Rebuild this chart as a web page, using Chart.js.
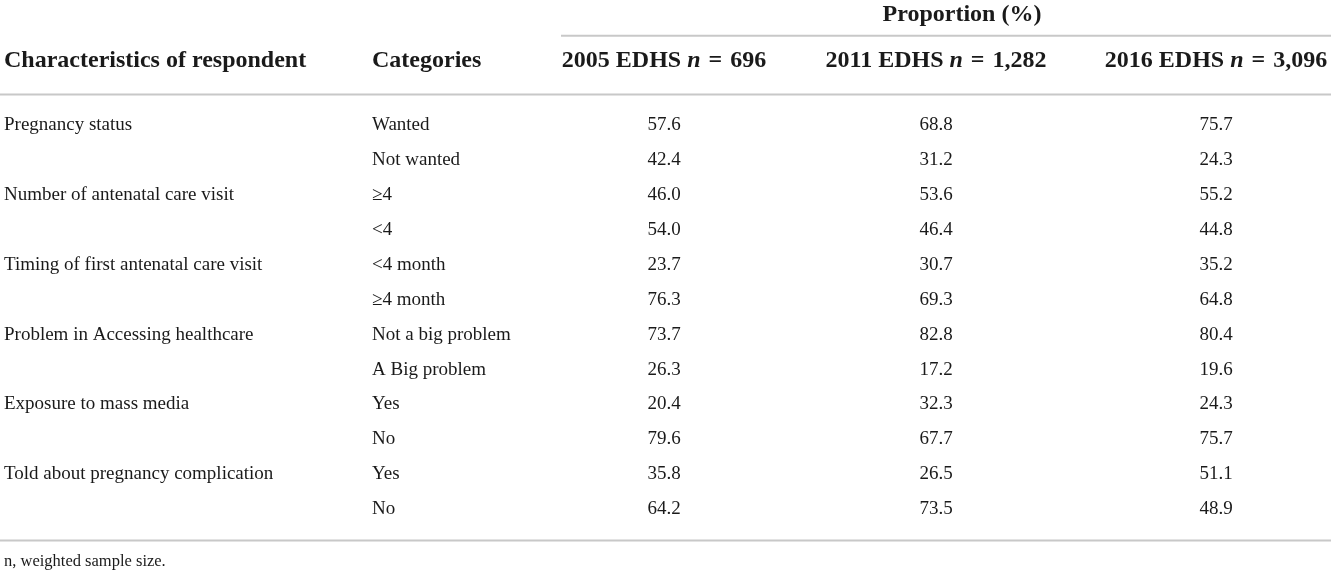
<!DOCTYPE html>
<html>
<head>
<meta charset="utf-8">
<script src="https://cdn.jsdelivr.net/npm/chart.js@4"></script>
<style>
  html, body { margin: 0; padding: 0; background: #ffffff; }
  #wrap { width: 1331px; height: 574px; }
</style>
</head>
<body>
<div id="wrap"><canvas id="c" width="1331" height="574"></canvas></div>
<script>
// ---- data ----
const characteristics = ['Pregnancy status', '', 'Number of antenatal care visit', '', 'Timing of first antenatal care visit', '',
  'Problem in Accessing healthcare', '', 'Exposure to mass media', '', 'Told about pregnancy complication', ''];
const categories = ['Wanted', 'Not wanted', '\u22654', '<4', '<4 month', '\u22654 month', 'Not a big problem', 'A Big problem', 'Yes', 'No', 'Yes', 'No'];
const edhs2005 = [57.6, 42.4, 46.0, 54.0, 23.7, 76.3, 73.7, 26.3, 20.4, 79.6, 35.8, 64.2];
const edhs2011 = [68.8, 31.2, 53.6, 46.4, 30.7, 69.3, 82.8, 17.2, 32.3, 67.7, 26.5, 73.5];
const edhs2016 = [75.7, 24.3, 55.2, 44.8, 35.2, 64.8, 80.4, 19.6, 24.3, 75.7, 51.1, 48.9];
const surveyYears = ['2005', '2011', '2016'];
const sampleSizes = ['696', '1,282', '3,096'];
const groupHeader = 'Proportion (%)';
const stubHeaders = ['Characteristics of respondent', 'Categories'];
const footnote = 'n, weighted sample size.';

// ---- layout (pixel units of the scales) ----
const L = {
  colX: [4, 372, 664, 936, 1216],      // left, left, center, center, center
  align: ['left', 'left', 'center', 'center', 'center'],
  firstRow: 125.5, rowStep: 34.86,
  headerY: 61, groupY: 15, footY: 562,
  groupX: 962, groupLine: [561, 1331, 35.7],
  headLine: 94.5, bottomLine: 540.5,
  font: '"Liberation Serif", "Times New Roman", serif',
  bodySize: 19, headSize: 24, footSize: 16.5,
  lineColor: '#c8c8c8', textColor: '#1a1a1a'
};

const columns = [characteristics, categories,
  edhs2005.map(v => v.toFixed(1)), edhs2011.map(v => v.toFixed(1)), edhs2016.map(v => v.toFixed(1))];

const datasets = columns.map((col, ci) => ({
  label: 'col' + ci,
  texts: col,
  data: col.map((_, ri) => ({ x: L.colX[ci], y: L.firstRow + ri * L.rowStep })),
  pointRadius: 0, pointHoverRadius: 0, showLine: false
}));

function drawRich(ctx, parts, x, y, align) {
  let total = 0;
  parts.forEach(p => { ctx.font = p.font; p.w = ctx.measureText(p.t).width; total += p.w; });
  let cx = align === 'center' ? x - total / 2 : x;
  ctx.textAlign = 'left';
  parts.forEach(p => { ctx.font = p.font; ctx.fillText(p.t, cx, y); cx += p.w; });
}

const tablePlugin = {
  id: 'table',
  afterDatasetsDraw(chart) {
    const ctx = chart.ctx;
    const xs = chart.scales.x, ys = chart.scales.y;
    ctx.save();
    ctx.fillStyle = L.textColor;
    ctx.textBaseline = 'middle';
    // body cells
    chart.data.datasets.forEach((ds, ci) => {
      const meta = chart.getDatasetMeta(ci);
      ctx.font = L.bodySize + 'px ' + L.font;
      ctx.textAlign = L.align[ci];
      meta.data.forEach((pt, ri) => {
        if (ds.texts[ri]) ctx.fillText(ds.texts[ri], pt.x, pt.y);
      });
    });
    // rules
    ctx.strokeStyle = L.lineColor;
    ctx.lineWidth = 2;
    const hline = (x0, x1, y) => {
      ctx.beginPath();
      ctx.moveTo(xs.getPixelForValue(x0), ys.getPixelForValue(y));
      ctx.lineTo(xs.getPixelForValue(x1), ys.getPixelForValue(y));
      ctx.stroke();
    };
    hline(L.groupLine[0], L.groupLine[1], L.groupLine[2]);
    hline(0, 1331, L.headLine);
    hline(0, 1331, L.bottomLine);
    // headers
    const bold = 'bold ' + L.headSize + 'px ' + L.font;
    const boldIt = 'italic bold ' + L.headSize + 'px ' + L.font;
    ctx.font = bold;
    ctx.textAlign = 'center';
    ctx.fillText(groupHeader, xs.getPixelForValue(L.groupX), ys.getPixelForValue(L.groupY));
    ctx.textAlign = 'left';
    stubHeaders.forEach((h, i) => {
      ctx.font = bold;
      ctx.fillText(h, xs.getPixelForValue(L.colX[i]), ys.getPixelForValue(L.headerY));
    });
    surveyYears.forEach((yr, i) => {
      drawRich(ctx, [
        { t: yr + ' EDHS ', font: bold },
        { t: 'n', font: boldIt },
        { t: '\u2004=\u2004' + sampleSizes[i], font: bold }
      ], xs.getPixelForValue(L.colX[i + 2]), ys.getPixelForValue(L.headerY), 'center');
    });
    // footnote
    ctx.font = L.footSize + 'px ' + L.font;
    ctx.textAlign = 'left';
    ctx.fillText(footnote, xs.getPixelForValue(L.colX[0]), ys.getPixelForValue(L.footY));
    ctx.restore();
  }
};

new Chart(document.getElementById('c'), {
  type: 'scatter',
  data: { datasets },
  options: {
    responsive: false,
    animation: false,
    events: [],
    layout: { padding: 0 },
    plugins: { legend: { display: false }, tooltip: { enabled: false } },
    scales: {
      x: { type: 'linear', min: 0, max: 1331, display: false },
      y: { type: 'linear', min: 0, max: 574, reverse: true, display: false }
    }
  },
  plugins: [tablePlugin]
});
</script>
</body>
</html>
